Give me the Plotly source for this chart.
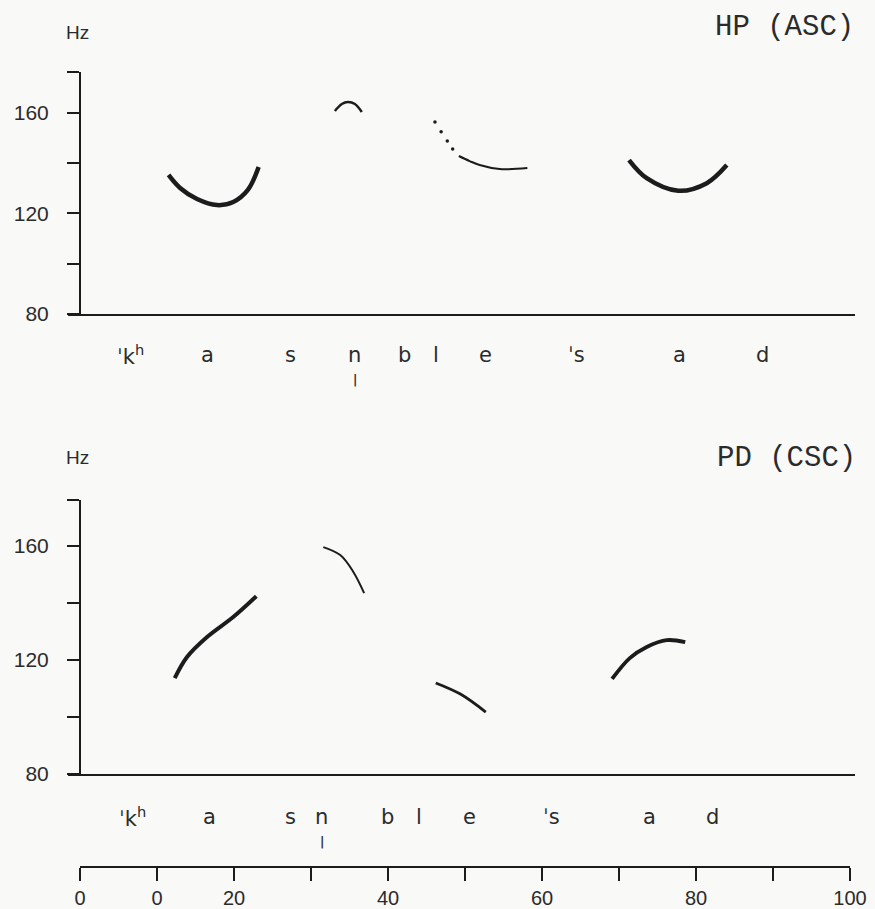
import plotly.graph_objects as go

W, H = 875, 909

# ---------------- data (time in % of utterance, F0 in Hz) ----------------
# Top panel: HP (ASC)
hp1_t = [11.5, 13.0, 15.2, 17.8, 19.9, 21.8, 23.2]
hp1_f = [135.3, 130.1, 125.7, 123.3, 124.5, 129.3, 138.4]
hp2_t = [33.1, 34.0, 34.8, 35.7, 36.6]
hp2_f = [160.7, 163.5, 164.3, 163.5, 160.3]
hp3_t = [46.1, 46.9, 47.7, 48.4]          # dotted part
hp3_f = [156.3, 152.4, 148.8, 145.6]
hp4_t = [49.2, 50.6, 51.9, 54.5, 58.1]
hp4_f = [142.8, 140.8, 139.2, 137.6, 138.0]
hp5_t = [71.3, 73.6, 77.7, 81.4, 84.0]
hp5_f = [141.2, 134.0, 129.0, 132.0, 139.2]

# Bottom panel: PD (CSC)
pd1_t = [12.3, 13.9, 16.5, 19.9, 22.9]
pd1_f = [113.6, 121.0, 128.0, 135.0, 142.3]
pd2_t = [31.6, 33.8, 35.5, 36.9]
pd2_f = [159.5, 156.7, 150.8, 143.4]
pd3_t = [46.2, 49.4, 52.7]
pd3_f = [111.9, 108.0, 101.7]
pd4_t = [69.1, 71.4, 73.6, 76.2, 78.6]
pd4_f = [113.3, 120.6, 124.5, 126.9, 126.2]

# segment labels and their time positions
hp_segs = ["ˈk<sup>h</sup>", "a", "s", "n", "b", "l", "e", "ˈs", "a", "d"]
hp_seg_t = [6.5, 16.6, 27.4, 35.7, 42.1, 46.2, 52.7, 64.5, 77.9, 88.6]
pd_segs = ["ˈk<sup>h</sup>", "a", "s", "n", "b", "l", "e", "ˈs", "a", "d"]
pd_seg_t = [6.8, 16.8, 27.3, 31.4, 39.9, 44.0, 50.6, 61.2, 73.9, 82.2]
syllabic_mark = "|"   # syllabicity mark under n

hz_ticks = [80, 100, 120, 140, 160]
hz_text = ["80", "", "120", "", "160"]
time_ticks = [0, 10, 20, 30, 40, 50, 60, 70, 80, 90, 100]
time_text = ["0", "0", "20", "", "40", "", "60", "", "80", "", "100"]

# ---------------- figure ----------------
INK = "#1c1c1c"
TXT = "#2b2b2b"
SANS = "Liberation Sans, Arial, sans-serif"
MONO = "Liberation Mono, DejaVu Sans Mono, monospace"
SEGF = "DejaVu Sans, sans-serif"

def py(p):
    return 1 - p / H

def pxf(p):
    return p / W

fig = go.Figure()

def line(t, f, ax, width, dotted=False):
    xa, ya = ax
    if dotted:
        fig.add_trace(go.Scatter(x=t, y=f, mode="markers", xaxis=xa, yaxis=ya,
                                 marker=dict(size=3.5, color=INK), showlegend=False,
                                 hoverinfo="skip"))
    else:
        fig.add_trace(go.Scatter(x=t, y=f, mode="lines", xaxis=xa, yaxis=ya,
                                 line=dict(color=INK, width=width, shape="spline"),
                                 showlegend=False, hoverinfo="skip"))

top = ("x", "y")
bot = ("x2", "y2")
line(hp1_t, hp1_f, top, 4.5)
line(hp2_t, hp2_f, top, 2.5)
line(hp3_t, hp3_f, top, 0, dotted=True)
line(hp4_t, hp4_f, top, 2)
line(hp5_t, hp5_f, top, 4.5)

line(pd1_t, pd1_f, bot, 4)
line(pd2_t, pd2_f, bot, 2)
line(pd3_t, pd3_f, bot, 2.8)
line(pd4_t, pd4_f, bot, 3.8)

# invisible trace for the shared time scale
fig.add_trace(go.Scatter(x=[0, 100], y=[0, 0], xaxis="x3", yaxis="y3", mode="markers",
                         marker=dict(opacity=0), showlegend=False, hoverinfo="skip"))

x_left = (68 - 80) / 7.7
x_right = (855 - 80) / 7.7

panel_x = dict(domain=[pxf(68), pxf(855)], range=[x_left, x_right], showline=True,
               linecolor=INK, linewidth=2, showticklabels=False, ticks="",
               showgrid=False, zeroline=False, fixedrange=True, automargin=False)

def panel_y(dom, top_val):
    return dict(domain=dom, range=[80, top_val], anchor="free", position=pxf(80),
                showline=True, linecolor=INK, linewidth=2, ticks="outside",
                ticklen=12, tickwidth=2, tickcolor=INK,
                tickvals=hz_ticks + [top_val], ticktext=hz_text + [""],
                tickfont=dict(family=SANS, size=21, color=TXT),
                ticklabelstandoff=14, showgrid=False, zeroline=False,
                automargin=False)

fig.update_layout(
    width=W, height=H,
    margin=dict(l=0, r=0, t=0, b=0, pad=0),
    paper_bgcolor="#f9f9f8", plot_bgcolor="rgba(0,0,0,0)",
    xaxis=dict(**panel_x, anchor="y"),
    yaxis=panel_y([py(314), py(72)], 176.2),
    xaxis2=dict(**panel_x, anchor="y2"),
    yaxis2=panel_y([py(774), py(500)], 176.0),
    xaxis3=dict(domain=[pxf(80), pxf(850)], range=[0, 100], anchor="y3",
                showline=True, linecolor=INK, linewidth=2, ticks="outside",
                ticklen=13, tickwidth=2, tickcolor=INK,
                tickvals=time_ticks, ticktext=time_text,
                tickfont=dict(family=SANS, size=20, color=TXT),
                ticklabelstandoff=0, showgrid=False, zeroline=False,
                automargin=False),
    yaxis3=dict(domain=[py(866), py(860)], range=[0, 1], visible=False,
                automargin=False),
)

ann = []
# titles
ann.append(dict(text="HP (ASC)", x=pxf(856), y=py(27), xref="paper", yref="paper",
                xanchor="right", yanchor="middle", showarrow=False,
                font=dict(family=MONO, size=29, color=TXT)))
ann.append(dict(text="PD (CSC)", x=pxf(858), y=py(458), xref="paper", yref="paper",
                xanchor="right", yanchor="middle", showarrow=False,
                font=dict(family=MONO, size=29, color=TXT)))
# unit labels
for yy in (32, 457):
    ann.append(dict(text="Hz", x=pxf(77), y=py(yy), xref="paper", yref="paper",
                    xanchor="center", yanchor="middle", showarrow=False,
                    font=dict(family=SANS, size=19, color=TXT)))
# segment labels
for segs, ts, base in ((hp_segs, hp_seg_t, 355), (pd_segs, pd_seg_t, 817)):
    for s, t in zip(segs, ts):
        ann.append(dict(text=s, x=t, y=py(base), xref="x", yref="paper",
                        xanchor="center", yanchor="middle", showarrow=False,
                        font=dict(family=SEGF, size=21, color=TXT)))
# syllabicity marks under n
for segs, ts, yy in ((hp_segs, hp_seg_t, 380), (pd_segs, pd_seg_t, 842)):
    t = ts[segs.index("n")]
    ann.append(dict(text=syllabic_mark, x=t, y=py(yy), xref="x", yref="paper",
                    xanchor="center", yanchor="middle", showarrow=False,
                    font=dict(family="DejaVu Sans, sans-serif", size=12, color=TXT,
                              weight="bold")))

fig.update_layout(annotations=ann)
fig.write_html("out.html", config={"displayModeBar": False},
               post_script="document.body.style.margin='0';document.body.style.overflow='hidden';")
